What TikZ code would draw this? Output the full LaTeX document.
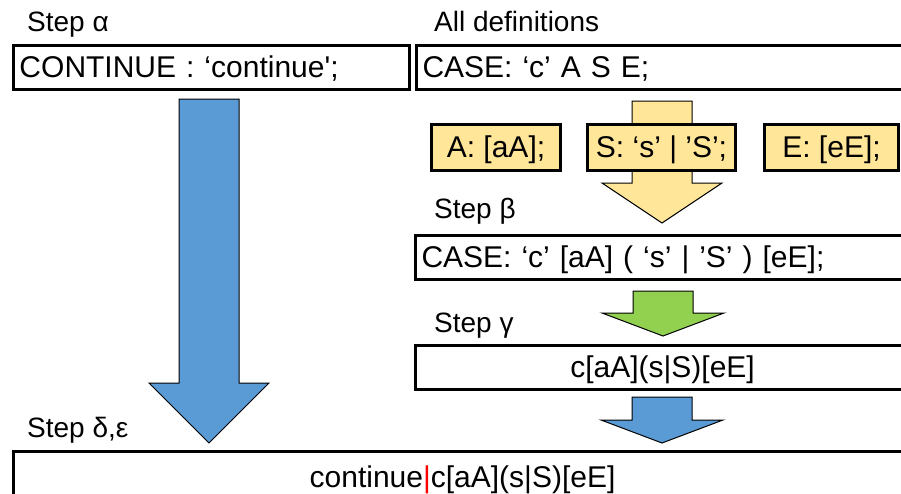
\documentclass[tikz,border=0pt]{standalone}
\usepackage{fontspec}
\setmainfont{Liberation Sans}

\definecolor{arrowblue}{HTML}{5B9BD5}
\definecolor{ruleyellow}{HTML}{FFE699}
\definecolor{stepgreen}{HTML}{92D050}

\begin{document}
\begin{tikzpicture}[x=1pt,y=-1pt,
    title/.style={anchor=base west, inner sep=0pt, font=\fontsize{28}{34}\selectfont},
    codebox/.style={draw, line width=3pt, anchor=north west, minimum height=44pt,
      inner xsep=6pt, inner ysep=0pt, text height=25pt, text depth=5pt,
      font=\fontsize{30}{36}\selectfont},
    leftbox/.style={codebox, align=left},
    rulebox/.style={codebox, fill=ruleyellow, minimum height=46pt},
    blockarrow/.style={draw, line width=1pt, line join=miter}]

        \useasboundingbox[fill=white] (0,0) rectangle (901,493);

        % the big arrows go first, the boxes sit on top of them
        \draw[blockarrow, fill=arrowblue] (179,99) -- (239,99) -- (239,383) -- (269,383)
          -- (209,443) -- (149,383) -- (179,383) -- cycle;
        \draw[blockarrow, fill=ruleyellow] (632,101) -- (692,101) -- (692,183) -- (722,183)
          -- (662,223) -- (602,183) -- (632,183) -- cycle;
        \draw[blockarrow, fill=stepgreen] (633,291) -- (693,291) -- (693,313) -- (724,313)
          -- (663,336) -- (602,313) -- (633,313) -- cycle;
        \draw[blockarrow, fill=arrowblue] (632,397) -- (692,397) -- (692,420) -- (723,420)
          -- (662,443) -- (601,420) -- (632,420) -- cycle;

        \begin{scope}
          \node[title] (stepa)    at (27,31)  {Step α};
          \node[title] (alldefs)  at (434,31) {All definitions};
          \node[title] (stepb)    at (434,218) {Step β};
          \node[title] (stepg)    at (434,332) {Step γ};
          \node[title] (stepde)   at (27,437) {Step δ,ε};
        \end{scope}

        \begin{scope}
          \node[leftbox, text width=384pt] (contbox) at (12,44)
            {CONTINUE : ‘continue\textquotesingle;};
          \node[leftbox, text width=533pt] (casebox) at (415,44) {CASE: ‘c’ A S E;};
          \node[rulebox, minimum width=129pt] (abox) at (430,123) {A: [aA];};
          \node[rulebox, minimum width=148pt] (sbox) at (586,123) {S: ‘s’ | ’S’;};
          \node[rulebox, minimum width=134pt] (ebox) at (763,123) {E: [eE];};
          \node[leftbox, text width=534pt] (casebbox) at (414,234)
            {CASE: ‘c’ [aA] ( ‘s’ | ’S’ ) [eE];};
          \node[codebox, minimum width=494pt] (cbox) at (414,344) {c[aA](s|S)[eE]};
          \node[codebox, minimum width=898pt, minimum height=52pt] (finalbox) at (12,450)
            {continue\textcolor{red}{|}c[aA](s|S)[eE]};
        \end{scope}

\end{tikzpicture}
\end{document}
